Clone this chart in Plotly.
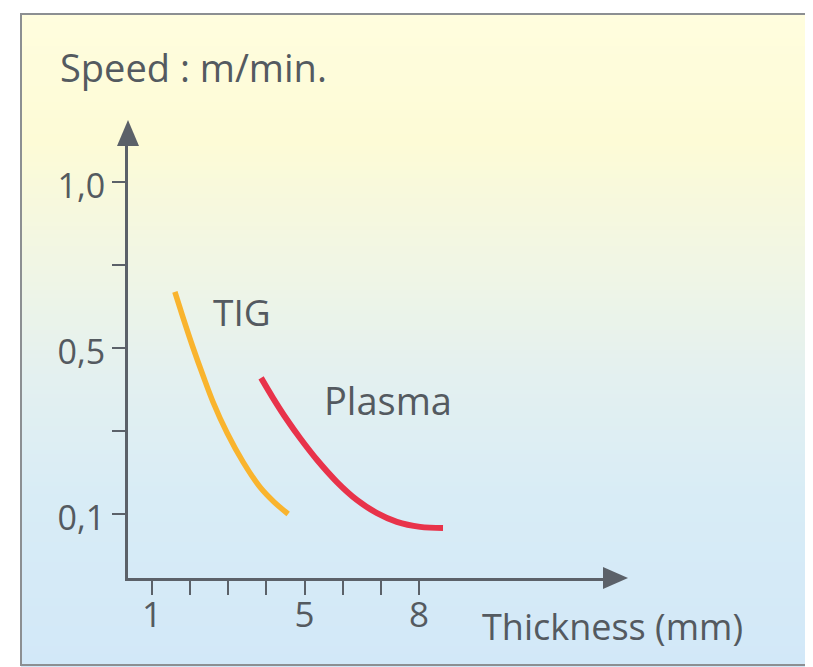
import numpy as np
import plotly.graph_objects as go

# ---------------- data ----------------
tig_thickness = [1.60, 1.81, 2.07, 2.34, 2.60, 2.97, 3.39, 3.83, 4.20, 4.57]
tig_speed = [0.669, 0.593, 0.503, 0.433, 0.370, 0.295, 0.225, 0.165, 0.129, 0.100]

plasma_thickness = [3.86, 4.17, 4.54, 4.88, 5.33, 5.85, 6.37, 6.90, 7.42, 8.03, 8.63]
plasma_speed = [0.428, 0.380, 0.327, 0.283, 0.230, 0.177, 0.134, 0.102, 0.081, 0.069, 0.066]

x_tick_values = [1, 2, 3, 4, 5, 6, 7, 8]
x_tick_labels = ["1", "", "", "", "5", "", "", "8"]

y_tick_speeds = [0.1, 0.3, 0.5, 0.75, 1.0]
y_tick_labels = ["0,1", "", "0,5", "", "1,0"]

# The speed axis of the drawing is schematic: 0.1, 0.5 and 1.0 are evenly spaced.
speed_anchor = [0.0, 0.1, 0.5, 1.0]
axis_anchor = [-0.5, 0.0, 2.0, 4.0]


def speed_to_axis(v):
    return np.interp(v, speed_anchor, axis_anchor)


# ---------------- layout geometry (screen pixels) ----------------
SCR_W, SCR_H = 813, 667
OFF = 8  # page body margin
W, H = SCR_W - OFF, SCR_H - OFF
L, R, T, B = 128, 612, 136, 578  # plot area in screen pixels
PW, PH = R - L, B - T


def px(xp):
    return (xp - L) / PW


def py(yp):
    return (B - yp) / PH


text_color = "#545a60"
axis_color = "#5b6169"
FONT = "Open Sans"

fig = go.Figure()

fig.add_trace(go.Scatter(
    x=tig_thickness, y=speed_to_axis(tig_speed), mode="lines",
    line=dict(color="#f9b42e", width=5.5, shape="spline", smoothing=1.0),
    name="TIG", showlegend=False, hoverinfo="skip"))
fig.add_trace(go.Scatter(
    x=plasma_thickness, y=speed_to_axis(plasma_speed), mode="lines",
    line=dict(color="#e8334a", width=6, shape="spline", smoothing=1.0),
    name="Plasma", showlegend=False, hoverinfo="skip"))

shapes = []
# gradient background inside the framed box
stops_y = [14, 140, 260, 380, 500, 667]
stops_c = [(255, 253, 222), (253, 251, 214), (241, 246, 228),
           (227, 240, 240), (216, 236, 246), (210, 232, 248)]
band = 4
y0 = 14
while y0 < SCR_H:
    y1 = min(y0 + band, SCR_H)
    ym = (y0 + y1) / 2
    c = [int(round(np.interp(ym, stops_y, [s[i] for s in stops_c]))) for i in range(3)]
    shapes.append(dict(type="rect", xref="paper", yref="paper",
                       x0=px(21), x1=px(SCR_W + 5), y0=py(y1 + 0.5), y1=py(y0),
                       fillcolor=f"rgb({c[0]},{c[1]},{c[2]})", line=dict(width=0),
                       layer="below"))
    y0 = y1
# frame of the box
shapes.append(dict(type="rect", xref="paper", yref="paper",
                   x0=px(21), x1=px(SCR_W + 10), y0=py(665), y1=py(14),
                   line=dict(color="#8c8f92", width=2), fillcolor="rgba(0,0,0,0)",
                   layer="below"))
# arrow heads of the axes
shapes.append(dict(type="path", xref="paper", yref="paper",
                   path=f"M {px(603)} {py(B - 11)} L {px(628)} {py(B)} L {px(603)} {py(B + 11)} Z",
                   fillcolor=axis_color, line=dict(width=0)))
shapes.append(dict(type="path", xref="paper", yref="paper",
                   path=f"M {px(L - 11)} {py(146)} L {px(L)} {py(120)} L {px(L + 11)} {py(146)} Z",
                   fillcolor=axis_color, line=dict(width=0)))

annotations = [
    dict(text="Speed : m/min.", xref="paper", yref="paper", x=px(58), y=py(67),
         xanchor="left", yanchor="middle", showarrow=False,
         font=dict(family=FONT, size=38, color=text_color)),
    dict(text="Thickness (mm)", xref="paper", yref="paper", x=px(480), y=py(626),
         xanchor="left", yanchor="middle", showarrow=False,
         font=dict(family=FONT, size=36, color=text_color)),
    dict(text="TIG", xref="x", yref="y", x=2.55, y=2.44,
         xanchor="left", yanchor="middle", showarrow=False,
         font=dict(family=FONT, size=37, color=text_color)),
    dict(text="Plasma", xref="x", yref="y", x=5.47, y=1.37,
         xanchor="left", yanchor="middle", showarrow=False,
         font=dict(family=FONT, size=38, color=text_color)),
]

x_lo = 1 - (152 - L) / 38.14
x_hi = 1 + (R - 152) / 38.14
y_lo = -(B - 514) / 83.0
y_hi = (514 - T) / 83.0

fig.update_layout(
    width=W, height=H,
    margin=dict(l=L - OFF, r=SCR_W - R, t=T - OFF, b=SCR_H - B, pad=0),
    paper_bgcolor="white", plot_bgcolor="rgba(0,0,0,0)",
    shapes=shapes, annotations=annotations, showlegend=False,
    xaxis=dict(range=[x_lo, x_hi], showgrid=False, zeroline=False,
               showline=True, linecolor=axis_color, linewidth=3,
               ticks="outside", ticklen=14, tickwidth=2, tickcolor=axis_color,
               tickvals=x_tick_values, ticktext=x_tick_labels,
               tickfont=dict(family=FONT, size=35, color=text_color),
               ticklabelstandoff=-10),
    yaxis=dict(range=[y_lo, y_hi], showgrid=False, zeroline=False,
               showline=True, linecolor=axis_color, linewidth=3,
               ticks="outside", ticklen=13, tickwidth=2, tickcolor=axis_color,
               tickvals=list(speed_to_axis(y_tick_speeds)), ticktext=y_tick_labels,
               tickfont=dict(family=FONT, size=34, color=text_color),
               ticklabelstandoff=0, ticklabelshift=4),
)

fig.write_html("out.html")
